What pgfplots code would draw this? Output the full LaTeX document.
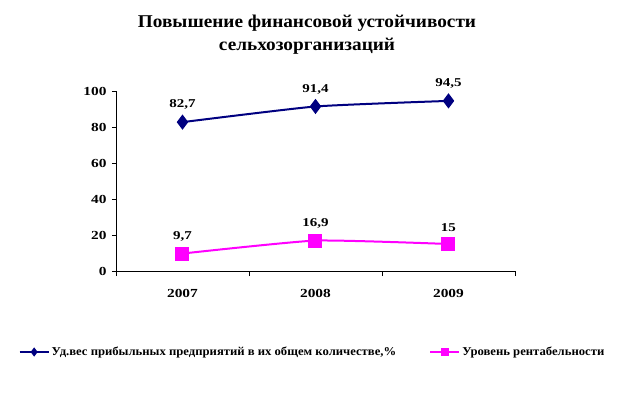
\documentclass[border=0pt]{standalone}
\usepackage{fontspec}
\setmainfont{Liberation Serif}
\newfontfamily\widefont[FakeStretch=1.25]{Liberation Serif}
\newfontfamily\legfont[FakeStretch=1.056]{Liberation Serif}
\newfontfamily\titlefont[FakeStretch=1.07]{Liberation Serif}
\usepackage{pgfplots}
\pgfplotsset{compat=1.18}
\definecolor{navy}{RGB}{0,0,128}
\definecolor{mag}{RGB}{255,0,255}
\begin{document}
\begin{tikzpicture}[x=1pt,y=1pt]
\useasboundingbox (-116,-123) rectangle (503,271);
\begin{axis}[
  at={(0,0)}, anchor=south west,
  scale only axis, width=399pt, height=180pt,
  xmin=-0.5, xmax=2.5, ymin=0, ymax=100,
  axis x line*=bottom, axis y line*=left,
  xtick={0,1,2}, xticklabels={2007,2008,2009},
  minor xtick={-0.5,0.5,1.5,2.5},
  major x tick style={draw=none},
  ytick={0,20,40,60,80,100},
  tick align=outside, major tick length=4pt, minor tick length=5pt,
  tick style={black, thin},
  /pgf/number format/assume math mode=true,
  ticklabel style={font=\widefont\fontsize{12.3}{14}\selectfont\bfseries},
  xticklabel style={yshift=-11pt},
  yticklabel style={xshift=-2pt},
  legend columns=2,
  legend style={at={(0.4925,-0.45)}, anchor=center, draw=none,
    font=\legfont\fontsize{12}{14}\selectfont\bfseries,
    /tikz/every even column/.append style={column sep=31pt},
    /tikz/every odd column/.append style={inner xsep=1pt}},
  legend image code/.code={\draw[#1,mark=none] (0pt,0pt) -- (29pt,0pt); \draw[#1, mark size=3pt, only marks] plot coordinates {(14.5pt,0pt)};},
  nodes near coords, point meta=explicit symbolic,
  every node near coord/.append style={font=\widefont\fontsize{12}{14}\selectfont\bfseries, black, yshift=8pt},
]
\addplot[navy, line width=2pt, smooth, tension=0.3, mark=diamond*, mark size=6pt, mark options={solid}] coordinates {(0,82.7)[82,7] (1,91.4)[91,4] (2,94.5)[94,5]};
\addlegendentry{Уд.вес прибыльных предприятий в их общем количестве,\%}
\addplot[mag, line width=2pt, smooth, tension=0.3, mark=square*, mark size=6pt] coordinates {(0,9.7)[9,7] (1,16.9)[16,9] (2,15)[15]};
\addlegendentry{Уровень рентабельности}
\end{axis}
\node[font=\titlefont\fontsize{18}{23}\selectfont\bfseries, align=center] at (191,236) {Повышение финансовой устойчивости\\сельхозорганизаций};
\end{tikzpicture}
\end{document}
